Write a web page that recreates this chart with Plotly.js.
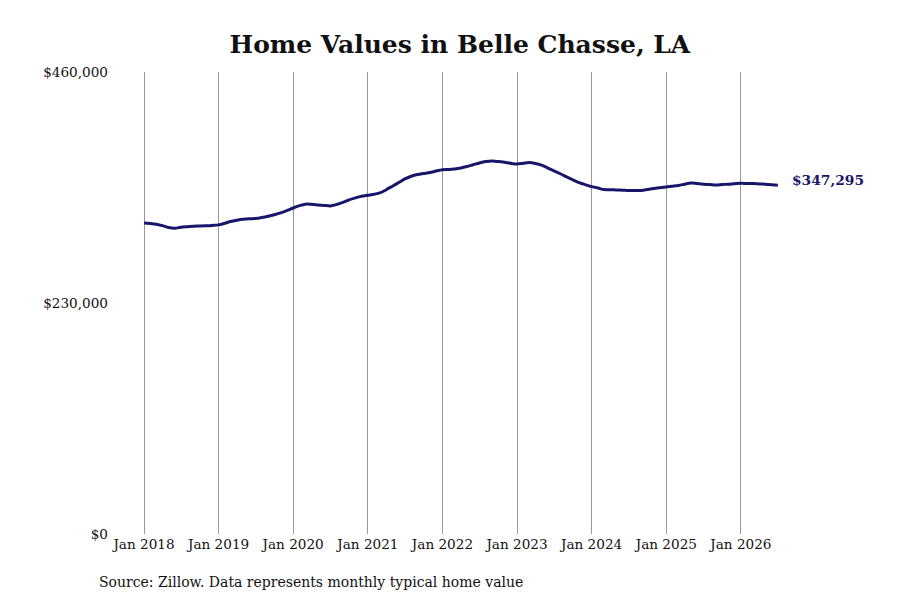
<!DOCTYPE html>
<html>
<head>
<meta charset="utf-8">
<script src="https://cdn.plot.ly/plotly-3.0.1.min.js"></script>
<style>html,body{margin:0;padding:0;background:#fff;}#chart{width:900px;height:600px;}</style>
</head>
<body>
<div id="chart"></div>
<script>
// Monthly typical home value, Jan 2018 onward
const startYear = 2018;
const startMonth = 1;
const homeValues = [
  309700, 309100, 308500, 307000, 305200, 304500, 305500, 306000, 306500, 306600, 306800, 307200,
  307800, 309400, 311100, 312400, 313400, 313900, 314100, 315100, 316400, 317900, 319700, 321900,
  324600, 326900, 328400, 328200, 327700, 327200, 326700, 328100, 330100, 332700, 334700, 336300,
  337300, 338300, 339600, 342800, 346300, 350000, 353500, 356200, 357900, 358900, 359900, 361400,
  362700, 363000, 363500, 364500, 365900, 367700, 369400, 370800, 371400, 370900, 370100, 369100,
  368400, 369100, 369800, 368900, 367200, 364400, 361500, 358700, 355500, 352700, 349900, 347900,
  345900, 344500, 342900, 342800, 342600, 342300, 342000, 341900, 342000, 343000, 344000, 344800,
  345600, 346300, 347000, 348300, 349500, 348900, 348300, 348000, 347600, 348000, 348300, 348800,
  349200, 349000, 348900, 348600, 348300, 347800, 347295
];
const xTickVals = ["2018-01-01","2019-01-01","2020-01-01","2021-01-01","2022-01-01","2023-01-01","2024-01-01","2025-01-01","2026-01-01"];
const xTickText = ["Jan 2018","Jan 2019","Jan 2020","Jan 2021","Jan 2022","Jan 2023","Jan 2024","Jan 2025","Jan 2026"];
const yTickVals = [0, 230000, 460000];
const yTickText = ["$0", "$230,000", "$460,000"];
const lastLabel = "$347,295";
const titleText = "Home Values in Belle Chasse, LA";
const sourceText = "Source: Zillow. Data represents monthly typical home value";

const dates = homeValues.map((v, i) => {
  const mIdx = startMonth - 1 + i;
  const y = startYear + Math.floor(mIdx / 12);
  const m = (mIdx % 12) + 1;
  return y + "-" + String(m).padStart(2, "0") + "-01";
});

const serif = "DejaVu Serif, serif";
const navy = "#17166b";

const trace = {
  x: dates, y: homeValues, type: "scatter", mode: "lines",
  line: {color: navy, width: 3, shape: "spline", smoothing: 0.8},
  hoverinfo: "skip"
};

const layout = {
  width: 900, height: 600,
  paper_bgcolor: "#fff", plot_bgcolor: "#fff",
  margin: {l: 115, r: 115, t: 72, b: 66},
  showlegend: false,
  font: {family: serif, color: "#111", size: 13.6},
  title: {text: "<b>" + titleText + "</b>", x: 0.511, xanchor: "center", y: 0.927, yanchor: "middle",
          font: {family: serif, size: 25, color: "#111"}},
  xaxis: {
    type: "date", range: ["2017-08-12", "2026-08-05"],
    tickvals: xTickVals, ticktext: xTickText,
    showgrid: true, gridcolor: "#999999", gridwidth: 1,
    zeroline: false, showline: false, ticks: "",
    tickfont: {family: serif, size: 13.6, color: "#111"}, fixedrange: true
  },
  yaxis: {
    range: [0, 460000], tickvals: yTickVals, ticktext: yTickText,
    showgrid: false, zeroline: false, showline: false, ticks: "",
    ticklabelstandoff: 6,
    tickfont: {family: serif, size: 13.6, color: "#111"}, fixedrange: true
  },
  annotations: [
    {x: dates[dates.length - 1], y: homeValues[homeValues.length - 1], xref: "x", yref: "y",
     text: "<b>" + lastLabel + "</b>", showarrow: false, xanchor: "left", yanchor: "middle",
     xshift: 12, yshift: 5, font: {family: serif, size: 13.8, color: navy}},
    {x: 99, y: 582, xref: "paper", yref: "paper", text: sourceText, showarrow: false,
     font: {family: serif, size: 14, color: "#111"}, xanchor: "left", yanchor: "middle"}
  ]
};
// place the source text in pixel terms via paper coords
layout.annotations[1].x = (97 - 115) / 670;
layout.annotations[1].y = (534 - 582) / 462;

Plotly.newPlot("chart", [trace], layout, {displayModeBar: false, staticPlot: true});
</script>
</body>
</html>
